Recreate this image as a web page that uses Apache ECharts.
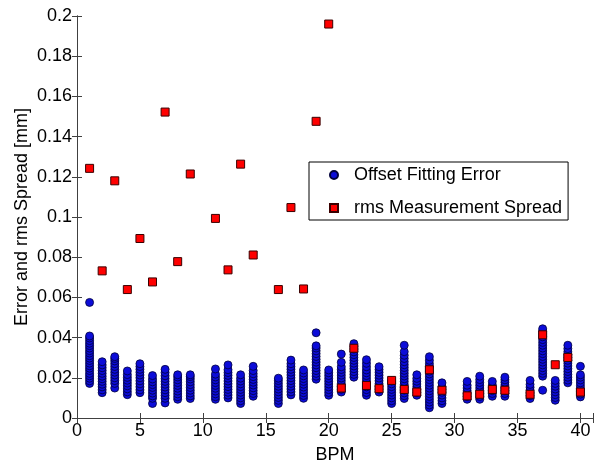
<!DOCTYPE html>
<html><head><meta charset="utf-8">
<script src="https://cdn.jsdelivr.net/npm/echarts@6/dist/echarts.min.js"></script>
<style>html,body{margin:0;padding:0;background:#fff}#c{width:596px;height:469px}</style>
</head><body><div id="c"></div>
<script>
// Axis ticks
const xTicks = [0, 5, 10, 15, 20, 25, 30, 35, 40];
const yTicks = [0, 0.02, 0.04, 0.06, 0.08, 0.1, 0.12, 0.14, 0.16, 0.18, 0.2];

// Offset Fitting Error: BPMs and their per-BPM dot values
const fitBpm = [1,2,3,4,5,6,7,8,9,11,12,13,14,16,17,18,19,20,21,22,23,24,25,26,27,28,29,31,32,33,34,36,37,38,39,40];
const fitErr = [
  [0.0172,0.0185,0.0198,0.0210,0.0222,0.0236,0.0248,0.0260,0.0273,0.0286,0.0298,0.0310,0.0323,0.0335,0.0348,0.0360,0.0372,0.0385,0.0398,0.0408,0.0575],
  [0.0126,0.0140,0.0155,0.0168,0.0182,0.0195,0.0208,0.0222,0.0236,0.0250,0.0264,0.0280],
  [0.0149,0.0172,0.0186,0.0200,0.0214,0.0228,0.0242,0.0256,0.0270,0.0284,0.0296,0.0305],
  [0.0116,0.0130,0.0145,0.0160,0.0174,0.0188,0.0202,0.0216,0.0234],
  [0.0126,0.0140,0.0155,0.0170,0.0185,0.0200,0.0214,0.0228,0.0242,0.0256,0.0270],
  [0.0072,0.0098,0.0110,0.0124,0.0138,0.0152,0.0166,0.0180,0.0194,0.0211],
  [0.0075,0.0098,0.0112,0.0126,0.0140,0.0154,0.0168,0.0182,0.0196,0.0210,0.0226,0.0242],
  [0.0093,0.0106,0.0120,0.0134,0.0148,0.0162,0.0176,0.0190,0.0204,0.0215],
  [0.0097,0.0110,0.0124,0.0138,0.0152,0.0166,0.0180,0.0194,0.0206,0.0215],
  [0.0093,0.0106,0.0120,0.0134,0.0148,0.0162,0.0176,0.0190,0.0204,0.0218,0.0244],
  [0.0100,0.0114,0.0128,0.0142,0.0156,0.0170,0.0184,0.0198,0.0212,0.0226,0.0240,0.0264],
  [0.0072,0.0086,0.0100,0.0114,0.0128,0.0142,0.0156,0.0170,0.0184,0.0198,0.0215],
  [0.0108,0.0122,0.0136,0.0150,0.0164,0.0178,0.0192,0.0206,0.0220,0.0236,0.0257],
  [0.0072,0.0088,0.0102,0.0116,0.0130,0.0144,0.0158,0.0172,0.0186,0.0198],
  [0.0115,0.0130,0.0144,0.0158,0.0172,0.0186,0.0200,0.0214,0.0228,0.0242,0.0256,0.0270,0.0288],
  [0.0098,0.0112,0.0126,0.0140,0.0154,0.0168,0.0182,0.0196,0.0210,0.0224,0.0239],
  [0.0193,0.0208,0.0222,0.0236,0.0250,0.0264,0.0278,0.0292,0.0306,0.0320,0.0334,0.0348,0.0359,0.0424],
  [0.0113,0.0127,0.0141,0.0155,0.0169,0.0183,0.0197,0.0211,0.0225,0.0239],
  [0.0129,0.0143,0.0157,0.0171,0.0185,0.0199,0.0213,0.0227,0.0241,0.0255,0.0277,0.0318],
  [0.0203,0.0217,0.0231,0.0245,0.0259,0.0273,0.0287,0.0301,0.0315,0.0329,0.0343,0.0357,0.0370],
  [0.0113,0.0127,0.0141,0.0155,0.0169,0.0183,0.0197,0.0211,0.0225,0.0239,0.0255,0.0272,0.0290],
  [0.0129,0.0143,0.0157,0.0171,0.0185,0.0199,0.0213,0.0227,0.0241,0.0255],
  [0.0072,0.0086,0.0100,0.0114,0.0128,0.0142,0.0156,0.0170,0.0184],
  [0.0097,0.0111,0.0125,0.0139,0.0153,0.0167,0.0181,0.0195,0.0209,0.0223,0.0237,0.0251,0.0265,0.0280,0.0296,0.0312,0.0330,0.0362],
  [0.0113,0.0127,0.0141,0.0155,0.0169,0.0183,0.0197,0.0215],
  [0.0051,0.0065,0.0079,0.0093,0.0107,0.0121,0.0135,0.0149,0.0163,0.0177,0.0191,0.0205,0.0219,0.0233,0.0255,0.0270,0.0287,0.0305],
  [0.0072,0.0086,0.0100,0.0114,0.0128,0.0142,0.0156,0.0175],
  [0.0093,0.0107,0.0121,0.0135,0.0149,0.0163,0.0182],
  [0.0093,0.0107,0.0121,0.0135,0.0149,0.0163,0.0177,0.0191,0.0208],
  [0.0108,0.0122,0.0136,0.0150,0.0164,0.0182],
  [0.0108,0.0122,0.0136,0.0150,0.0164,0.0178,0.0190,0.0203],
  [0.0097,0.0111,0.0125,0.0139,0.0153,0.0167,0.0187],
  [0.0138,0.0208,0.0222,0.0236,0.0250,0.0264,0.0278,0.0292,0.0306,0.0320,0.0334,0.0348,0.0362,0.0376,0.0390,0.0404,0.0418,0.0432,0.0444],
  [0.0088,0.0102,0.0116,0.0130,0.0144,0.0158,0.0172,0.0187],
  [0.0175,0.0189,0.0203,0.0217,0.0231,0.0245,0.0259,0.0273,0.0287,0.0301,0.0315,0.0329,0.0345,0.0362],
  [0.0105,0.0119,0.0133,0.0147,0.0161,0.0175,0.0189,0.0203,0.0215,0.0257]
];

// rms Measurement Spread
const rmsBpm = [1,2,3,4,5,6,7,8,9,11,12,13,14,16,17,18,19,20,21,22,23,24,25,26,27,28,29,31,32,33,34,36,37,38,39,40];
const rmsSpread = [0.1242,0.0732,0.1180,0.0639,0.0893,0.0677,0.1522,0.0778,0.1214,0.0993,0.0737,0.1263,0.0811,0.0639,0.1047,0.0642,0.1476,0.1960,0.0149,0.0347,0.0162,0.0146,0.0187,0.0142,0.0129,0.0240,0.0138,0.0110,0.0118,0.0142,0.0138,0.0118,0.0414,0.0265,0.0301,0.0129];

const blueData = [];
fitBpm.forEach((b, i) => fitErr[i].forEach(v => blueData.push([b, v])));
const redData = rmsBpm.map((b, i) => [b, rmsSpread[i]]);

const FONT = 'Liberation Sans, Arial, sans-serif';
const axisColor = '#404040';
const chart = echarts.init(document.getElementById('c'), null, {renderer: 'canvas'});
const xFmt = v => (xTicks.indexOf(v) >= 0 ? String(v) : '');
const yFmt = v => {
  const r = Math.round(v * 100) / 100;
  return yTicks.some(t => Math.abs(t - v) < 1e-9) ? String(r) : '';
};
chart.setOption({
  animation: false,
  backgroundColor: '#fff',
  grid: {left: 77, right: 2, top: 16, bottom: 46, containLabel: false},
  legend: {
    left: 309, top: 162,
    orient: 'vertical',
    itemWidth: 8, itemHeight: 8, itemGap: 15,
    padding: [4, 6, 3, 20],
    borderColor: '#000', borderWidth: 1, backgroundColor: '#fff',
    textStyle: {fontFamily: FONT, fontSize: 18, color: '#000', padding: [0, 0, 0, 11]},
    data: ['Offset Fitting Error', 'rms Measurement Spread']
  },
  xAxis: [{
    type: 'value', min: 0, max: 41, interval: 5,
    name: 'BPM', nameLocation: 'middle', nameGap: 28,
    nameTextStyle: {fontFamily: FONT, fontSize: 18, color: '#000'},
    axisLine: {show: true, lineStyle: {color: axisColor, width: 1}},
    axisTick: {show: true, inside: true, length: 5, lineStyle: {color: axisColor}},
    axisLabel: {formatter: xFmt, fontFamily: FONT, fontSize: 18, color: '#000', margin: 4},
    splitLine: {show: false}
  }, {
    type: 'value', min: 0, max: 41, interval: 5, position: 'top',
    axisLine: {show: true, lineStyle: {color: axisColor, width: 1}},
    axisTick: {show: true, inside: true, length: 5, lineStyle: {color: axisColor}},
    axisLabel: {show: false}, splitLine: {show: false}
  }],
  yAxis: [{
    type: 'value', min: 0, max: 0.2, interval: 0.02,
    name: 'Error and rms Spread [mm]', nameLocation: 'middle', nameGap: 46,
    nameMoveOverlap: false,
    nameTextStyle: {fontFamily: FONT, fontSize: 18, color: '#000'},
    axisLine: {show: true, lineStyle: {color: axisColor, width: 1}},
    axisTick: {show: true, inside: true, length: 5, lineStyle: {color: axisColor}},
    axisLabel: {formatter: yFmt, fontFamily: FONT, fontSize: 18, color: '#000', margin: 5},
    splitLine: {show: false}
  }, {
    type: 'value', min: 0, max: 0.2, interval: 0.02, position: 'right',
    axisLine: {show: true, lineStyle: {color: axisColor, width: 1}},
    axisTick: {show: true, inside: true, length: 5, lineStyle: {color: axisColor}},
    axisLabel: {show: false}, splitLine: {show: false}
  }],
  series: [{
    name: 'Offset Fitting Error', type: 'scatter', symbol: 'circle', symbolSize: 8,
    itemStyle: {color: '#0c0cd8', borderColor: '#00003c', borderWidth: 0.8, opacity: 1},
    data: blueData, z: 2
  }, {
    name: 'rms Measurement Spread', type: 'scatter', symbol: 'rect', symbolSize: 8,
    itemStyle: {color: '#ff0000', borderColor: '#3a0000', borderWidth: 1, opacity: 1},
    data: redData, z: 3
  }]
});
</script></body></html>
